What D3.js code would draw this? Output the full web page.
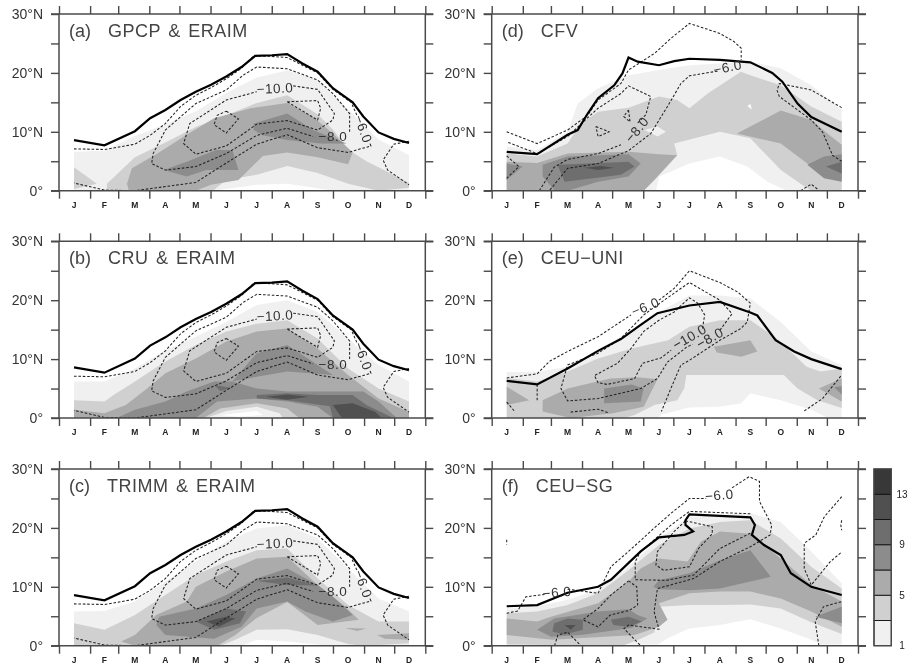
<!DOCTYPE html>
<html>
<head>
<meta charset="utf-8">
<script src="https://cdn.jsdelivr.net/npm/d3@7"></script>
<style>
html, body { margin: 0; padding: 0; background: #fff; }
svg { display: block; filter: blur(0.35px); }
text { font-family: "Liberation Sans", Arial, sans-serif; }
</style>
</head>
<body>
<svg id="chart" width="911" height="667"></svg>
<script>
months = ['J','F','M','A','M','J','J','A','S','O','N','D'];
monthStarts = [0,31,59,90,120,151,181,212,243,273,304,334,365];
latTicks = [0,5,10,15,20,25,30];
shades = ['#ffffff','#f0f0f0','#d0d0d0','#ababab','#8c8c8c','#6e6e6e','#505050','#383838'];
barTicks = [1,5,9,13];

// ERAIM line and contours, the same in the three left panels
eraimEdge = [[1,8.6],[2,7.7],[3,10.1],[3.5,12.3],[4,13.7],[4.5,15.4],[5,16.8],[5.5,18],[6,19.4],[6.5,21],[6.95,22.9],[7.5,23],[8,23.2],[8.5,21.6],[9,20.2],[9.5,17.4],[10.15,15],[10.5,12.6],[11,9.9],[11.5,8.8],[12,8.1]];
eraimLines = [
	[[1,7.1],[2,7],[3,7.9],[3.5,9.4],[4,11.4],[4.5,14.3],[5,16.2],[5.5,17.5],[6,19],[6.5,20.8],[6.9,22.9],[7.5,22.8],[8,22.6],[8.5,21.3],[9,20],[9.5,17.2],[10.1,15],[10.3,12.7]],
	[[10.72,8],[10.75,7.6],[10,6.5],[9,7.3],[8,9.5],[7,7.9],[6,4.7],[5,1.4],[3,0],[2,0.1],[1,1.3]],
	[[10.05,10],[10.05,13.1],[9.5,16.5],[9,18.8],[8,20.7],[7,21],[6.55,19.6],[6,17.1],[5,14.8],[4,10.3],[3.6,6.3],[3.55,4.6],[4,3.5],[5,4.1],[6,6.3],[7,9.4],[8,10.6],[8.85,9.2]],
	[[8.2,17.8],[9,17.2],[9.55,13.1],[9.5,12],[9,10.3],[8,11.9],[7,11.3],[6,7.6],[5,6.2],[4.6,8],[4.8,11.4],[6,15.4],[7,16.8]],
	[[6,13.5],[6.4,12.2],[6,9.8],[5.6,11.2],[5.7,12.8],[6,13.5]],
	[[8,15.1],[9,15.3],[9.1,14],[9,12],[8,15.1]],
	[[12,8.4],[11.5,7.9],[11.15,5.2],[11.3,3.5],[12,1]]
];
eraimLabels = [[7.6,17.4,'\u221210.0',-3],[9.5,9.2,'\u22128.0',0],[10.5,10.5,'\u22126.0',70]];

shadeA = [
	[1,[[1,6.6],[2,6.8],[3,9.3],[4,11.3],[5,13.5],[6,16.6],[7,19.2],[8,20.4],[9,18.9],[10,13.8],[11,8.7],[12,6],[12,0],[1,0]]],
	[0,[[5.56,0],[7,1],[8,1.2],[9,0.4],[9.5,0]]],
	[2,[[1,4],[1.75,1.2],[1,0.3]]],
	[2,[[2.08,0],[2.08,1.2],[3,5.7],[4,8.2],[5,10.8],[6,12.8],[7,14.9],[8,16.2],[9,13],[9.5,10.4],[10,7],[10.6,5],[11,4],[12,1.3],[12,0.5],[11,0],[10,1.2],[9,3],[8,4.2],[7,2.7],[6,1.8],[5.56,0]]],
	[3,[[2.74,1.2],[2.9,3.8],[3.7,6.2],[4.7,9.5],[5.6,12.3],[6.8,14],[8,14.9],[8.85,12.5],[9.5,9.7],[10.15,6.5],[10,4.5],[9,5.7],[8,6.5],[7.2,5.9],[6.4,1.8],[5.5,1],[5,0],[2.8,0]]],
	[4,[[3.95,3.5],[4.7,4.9],[5.67,6.9],[6.2,6.9],[6.4,3.5],[5.35,3.5],[4.7,2.4]]],
	[4,[[6.9,11.4],[8,13.1],[8.85,10.3],[9.95,8],[9.1,8],[8,8.6],[7.2,9.4],[6.9,10.3]]]
];
shadeB = [
	[1,[[1,6.2],[2,6.2],[3,8.4],[4,11.5],[5,13.8],[6,16.3],[7,19.2],[8,20],[9,18],[10,13.5],[11,9],[12,6.2],[12,0],[1,0]]],
	[2,[[1,3],[2,2.8],[2.3,3.9],[3,6.2],[4,9.6],[5,12.4],[6,14.7],[7,16],[8,16.6],[9,13.5],[10,8.4],[11,5],[12,2.8],[12,0],[1,0]]],
	[3,[[1,1.4],[2,0.8],[2.7,2.2],[3.4,5],[4,7.6],[5,10.1],[6,13],[7,14.7],[8,15.2],[9,11.8],[10,7.3],[11,3.3],[12,1],[12,0],[1,0]]],
	[4,[[2.4,0],[3,1.4],[4,2.8],[4.7,4.5],[5.6,6.2],[6.2,6.2],[7,5],[8,4.5],[9,4.5],[10.5,4.5],[11,2.8],[11.6,0]]],
	[4,[[6.2,6.2],[7,11],[8,12.4],[9,9],[9.5,7.3],[8,7.9],[7,7]]],
	[3,[[5,0],[5.7,2.8],[7,3.3],[8,2.8],[9,1.9],[9.5,0]]],
	[2,[[5.25,0],[5.8,1.6],[7,2.5],[8,1.6],[8.4,0]]],
	[1,[[5.45,0.2],[6,1.2],[7,1.9],[7.75,0.8],[7.85,0],[5.45,0]]],
	[0,[[5.8,0.5],[7,1.2],[7.2,0.5],[6.4,0.2]]],
	[5,[[5.6,5.6],[6.2,5.1],[5.8,4.6]]],
	[5,[[7,3.9],[8,4.2],[9,3.9],[10.15,3.9],[10.6,2.2],[11.4,0.2],[11.5,0],[9.5,0],[9.4,2],[8,3],[7,3.3]]],
	[6,[[7.3,3.6],[8,4],[8.7,3.6],[8,3.1]]],
	[6,[[9.5,2.2],[10.15,2.5],[10.9,1],[11.1,0],[9.8,0]]]
];
shadeC = [
	[1,[[1,5.8],[2,5.9],[3,7.5],[4,10.9],[5,14.3],[6,17.7],[7,19.9],[8,20.5],[9,18.2],[10,13.1],[11,8],[12,5.8],[12,0],[1,0]]],
	[2,[[1,3.8],[2,2.7],[3,5.2],[4,8.6],[5,12],[6,14.3],[7,16.2],[8,16.5],[9,11.4],[10,6.9],[11,4.1],[12,4.1],[12,0.4],[11,0.1],[10.5,0],[1,0]]],
	[1,[[5.8,0],[6.3,1],[7,2.7],[8,2.8],[9,1.8],[10,0.3],[10.5,0]]],
	[0,[[6.5,0],[7,1],[8,0.7],[9.4,0]]],
	[3,[[2.55,0.7],[3,1.8],[3.7,5.2],[4.7,7.5],[5,10],[6,12.6],[7,14.8],[8,15.1],[9,10.3],[9.85,6.9],[10.35,4.4],[9,3.5],[8,7.4],[7,4.7],[6.3,1.8],[5.7,0],[3,0]]],
	[4,[[3.8,4.9],[5,6.3],[6,8.6],[7,11.4],[8,13.1],[9,10.3],[9.5,8.3],[10.15,5.2],[9.5,4.1],[8.6,5.8],[8,7.5],[7,6.3],[6.5,3.2],[5.6,1.2],[4,1.8],[3.7,3.5]]],
	[5,[[5,4.1],[6,6.3],[6.65,5.8],[6.45,3.8],[5.6,2.7]]],
	[5,[[7,11],[8,11.6],[9,10.2],[8,10.3]]],
	[6,[[5.35,4.1],[6,4.9],[6.3,4.6],[5.75,3.2]]],
	[3,[[9.9,3],[10.6,2.9],[10.3,2.5]]],
	[3,[[10.95,1.8],[12,2.1],[12,1],[11.2,1.2]]]
];
shadeD = [
	[1,[[1,7.5],[2,6.9],[3,10],[3.33,14.8],[4,17.4],[5,19.6],[6,20.5],[7,21.3],[8,21.6],[9,21.9],[10,20.8],[11,17.9],[12,13.7],[12,0],[1,0]]],
	[2,[[1,6.3],[2,5.8],[3,8],[3.44,11.4],[4,13.4],[5,14.1],[6,16],[6.6,15.4],[7,14],[7.6,16.5],[8.69,20.2],[9,19.6],[10,17.9],[11,14.3],[12,11.7],[12,0],[1,0]]],
	[1,[[5.5,0],[5.73,2.9],[6.6,6],[6.5,8],[8,10],[9,8.9],[10,3.5],[10.65,1.2],[11,0]]],
	[1,[[5.52,10.3],[5.95,10.9],[6.23,10],[5.95,9.2]]],
	[0,[[5.9,0],[6.01,2.4],[7,4.6],[8,5.8],[8.9,4.1],[9.56,1.5],[10.2,0]]],
	[0,[[8.9,14.4],[9,14.7],[9.05,13.8]]],
	[3,[[1,4.9],[2,4.7],[3,6.3],[5,6.6],[6,6.2],[6.6,6],[5.85,1.8],[5.5,0],[1,0]]],
	[3,[[8.56,9.7],[10,13.6],[11,12],[11.53,9.7],[12,7.8],[12,1.8],[11,4.1],[10,8]]],
	[4,[[1,4.6],[1.52,4.1],[1,1.8]]],
	[4,[[2.18,4.4],[3,5.8],[5,6.2],[5.4,4.6],[5,2.4],[4,1.5],[3,0],[2.56,0.1],[2.18,2.4]]],
	[4,[[10.87,4.4],[11.42,5.8],[12,6.2],[12,1.5],[11.42,2.1]]],
	[5,[[2.67,4.4],[3.66,4.6],[5,4.9],[5.2,4.1],[4.75,2.7],[2.9,1.5]]],
	[5,[[11.48,4.1],[12,4.9],[12,2.9]]],
	[6,[[3.55,3.9],[4.1,4.2],[4.53,3.9],[4,3.5]]]
];
shadeE = [
	[1,[[1,7.8],[2,7.8],[3,8.7],[4,11.5],[5,14.7],[6,18],[7,20.8],[8,20.8],[9,20.3],[10,16.3],[11,11.3],[12,9],[12,0],[1,0]]],
	[0,[[5.95,0],[6.1,0.6],[7,1.8],[8,1.9],[8.7,2.5],[9,4.2],[10,3],[11,1.4],[11.55,0]]],
	[2,[[1,6.8],[2,6.2],[3,7.9],[4,10.1],[5.1,11.8],[6.3,13.2],[7,15.5],[8,16.6],[9,16.6],[9.87,13.5],[10.85,8.7],[11.3,7.9],[12,8.4],[12,1.7],[11.2,3],[10.55,5],[10.1,7.3],[6.9,7.3],[6.83,5],[6.6,3],[5.85,2.2],[5.2,0.5],[4.86,0],[1,0]]],
	[3,[[1,5.3],[1.74,3],[1,2.2]]],
	[3,[[2.18,3],[3,5],[4.4,6.7],[5.3,6.9],[5.95,6.6],[5.5,1.9],[4.5,0.8],[3.1,0],[2.18,1.1]]],
	[3,[[7.8,12.1],[9,13.2],[9.23,11.3],[8.7,10.4],[7.9,11.1]]],
	[3,[[11.25,5],[12,6.7],[12,2.8]]],
	[4,[[4.2,5],[5.1,5.7],[5.5,5],[5.4,2.8],[4.2,2.5]]],
	[4,[[11.75,5.2],[12,5.4],[12,4]]]
];
shadeF = [
	[1,[[1,6.3],[2,6.7],[3,7.8],[4,9.5],[5,13.4],[6,18.2],[7,21.9],[8,22.2],[9,22.5],[10,21],[11,16],[12,10.6],[12,0.2],[1,0.2]]],
	[0,[[5.9,0],[6.3,1.3],[7,2.9],[8,3.5],[9,4.5],[10,2.9],[11,1],[11.4,0]]],
	[2,[[1,5.5],[2,5.8],[3,6.9],[4,8.9],[5,12.8],[6,17.1],[7,19.9],[8,21],[9,21.3],[10,18.2],[11,13.4],[12,9.7],[12,2],[11,4],[10,6.3],[9,7],[8,6.9],[7,6.9],[6,6.6],[5.85,2.3],[5.4,1.2],[4.8,0],[1,0.2]]],
	[3,[[1,4.6],[2,4.1],[2.45,4.9],[4,7.2],[5,10.9],[5.4,13.1],[6,14.8],[6.94,14.3],[7.38,17.7],[8,19.4],[9,19],[10,14.8],[11,10.3],[12,7.5],[12,3.2],[11,5.8],[10,8],[9,9.2],[8,9.2],[7,8.9],[6,7.2],[6.28,4.4],[6,3.2],[5.2,1.8],[2.5,1],[1,1.8]]],
	[4,[[2,2.7],[2.56,4.6],[4,5.8],[5,6.2],[5.3,5.2],[5.62,4.6],[5.08,3],[3.44,1.8],[2.46,1.5]]],
	[4,[[5.82,10],[6,11.1],[7,12.3],[8,14.5],[9,16.2],[9.67,11.7],[9,10.9],[8,9.7],[7,9.4],[6,9.6]]],
	[4,[[11.13,4.9],[12,6.6],[12,3.8]]],
	[5,[[2.56,3.8],[3,4.6],[3.5,4.4],[3.5,2.7],[2.9,1.9],[2.5,2.4]]],
	[5,[[4.42,4.4],[5,4.9],[5.44,4.1],[5,3.2],[4.5,3.5]]],
	[6,[[2.9,3.5],[3.27,3.5],[3.1,2.7]]]
];

edgeD = [[1,6.6],[2,6.2],[3,9.5],[3.33,10.3],[3.66,13.1],[4,15.7],[4.53,17.9],[4.8,19.9],[5,22.6],[5.3,21.9],[6,21.3],[6.5,22],[7,22.4],[8,22.2],[9,21.8],[9.72,20],[10.05,18.5],[10.55,14.8],[11,12.5],[12,10]];
edgeE = [[1,6.3],[2,5.7],[3,8.4],[4,11.4],[4.75,13.4],[5.4,15.8],[5.95,17.8],[7,19.1],[8,19.7],[9,17.9],[9.23,17.4],[9.83,13.2],[10.44,11.3],[11,10],[12,8.3]];
edgeF = [[1,6.7],[2,6.9],[3,9],[4,10],[4.42,11.2],[5.4,16],[6,18.4],[6.83,18.8],[7.12,19.4],[6.87,20.5],[6.87,21.3],[7,22.3],[9,21.8],[9.15,20.5],[9.05,18.8],[9.45,17.1],[10,15.4],[10.33,12.3],[11,10],[12,8.6]];

linesD = [
	[[1,10],[2,8],[3,10.3],[3.66,12.8],[4,15.4],[4.75,18.2],[5,20.5],[5.85,23.3],[6.4,25.9],[7,28.4],[8,26.7],[8.47,25.3],[8.7,24.2],[8.7,22.2]],
	[[7.92,20.3],[7,19.5],[6.72,18.2],[6.28,14.3],[5.73,9.7],[5,6.8],[4,4.6],[3,3.8],[2.4,0]],
	[[2.07,0],[2.56,4],[3,5.3],[4,6.3],[4.75,7.8]],
	[[5.3,11.5],[5.57,12.9],[5.73,16],[5,17.8],[4.75,16.5],[4,14],[3,9.2],[2,6.3],[1,8.3]],
	[[3.93,10.9],[4.36,10],[4,9.2],[3.93,10.9]],
	[[5,13.7],[5.05,11.7],[4.84,12.6],[5,13.7]],
	[[12,14.1],[11,17.1],[9.95,18.2],[9.88,17],[9.95,16],[11,12],[11.37,10],[11.7,6],[12,5]],
	[[1,5.9],[1.4,4.1],[1,2.1]],
	[[10.65,0],[11,1.1],[11.27,0]]
];
linesE = [
	[[1,6.8],[2,7.5],[2.4,9.6],[3,11.3],[4,13.8],[5.08,17.5]],
	[[6,20],[6.5,22],[7,25],[8,23],[8.58,21.4],[9,19.5],[8.9,16.3],[8.69,15.2],[8,13.2],[7,9.8],[6.72,9],[6.39,5],[6.08,1.1]],
	[[8,14.9],[8.4,17.7],[8,20],[7,23],[6.5,21.2],[5.95,19.2],[5.5,17.5],[4.75,13.5],[4,11],[3,9],[2.78,5],[3,2.9],[4,3.3],[5.4,5],[5.95,6.7],[6.28,9.5],[6.9,12],[7.1,12.5]],
	[[2,5.7],[2,3]],
	[[7.43,15.2],[7.5,17.5],[7.27,19.5],[7,20.4],[6.5,18],[6,16.6],[5.5,14.7],[5.08,11.8],[4.64,9.3],[3.88,7.2],[4,6],[4.3,5.7],[5.2,6.7],[5.46,9.3],[6.06,10.2],[6.4,11.5]],
	[[3.1,1],[4,1.5],[4.33,0.9]],
	[[1,2.7],[1.25,1.2]],
	[[10.77,1.2],[11.37,3.3],[12,7.3]]
];
linesF = [
	[[1,5.5],[1.36,5.9],[1.63,8.3],[2.24,8.7]],
	[[3,9.6],[4,8.9],[4.42,13.4],[5,16],[5.85,20],[6.4,22.5],[7,25],[7.55,25]],
	[[8.4,26.8],[8.96,28.7],[9.3,27.9],[9.3,24.5],[9.7,20.5],[9.65,18.8],[9,16.8],[8,14.3],[7.14,11.4],[5.95,9.7],[5.84,5.8],[5.9,4.6],[6,2.8],[5,3.5],[4.85,2.9],[5.4,0]],
	[[9,22.4],[7,22.8],[6.4,20.5],[5.85,18],[5.4,16],[5.22,14.3],[5.22,11.2],[6.25,11.1],[7.14,12],[8,16.5],[9,19.1]],
	[[6.87,21.2],[7.75,20.2],[7.75,19],[7.3,16.5],[7,13.4],[6.15,12.8],[5.9,13.7],[5.95,16],[6.5,19.4],[6.87,21.2]],
	[[5,11],[5.27,10],[5.3,6.9],[5.03,6],[4.4,5.2],[4,3.2],[3.5,4.4],[4,6.3],[4.42,8.6],[5,11]],
	[[2.57,0],[2.68,1.8],[3,2.3],[3.44,0]],
	[[11.25,0],[11.13,4.1],[11.4,6.6],[12,7.5]],
	[[12,25.3],[11.43,21.9],[11.15,18.8],[10.77,17.4],[10.77,13.1],[11,10.3],[11.63,14.3],[12,15.9]],
	[[12,21.3],[11.97,20.5],[12,19.6]],
	[[1,18],[1,17.2]]
];
labelsD = [[8.25,21,'\u22126.0',-12],[5.27,10.4,'\u22128.0',-50]];
labelsE = [[5.55,18.9,'\u22126.0',-22],[7,13.8,'\u221210.0',-30],[7.67,13.6,'\u22128.0',-30]];
labelsF = [[2.65,9.1,'\u22126.0',-5],[7.98,25.6,'\u22126.0',-5]];

panels = [
	{tag:'(a)', name:'GPCP & ERAIM', nameX:49, left:59, top:14, shade:shadeA, edge:eraimEdge, lines:eraimLines, labels:eraimLabels},
	{tag:'(b)', name:'CRU & ERAIM', nameX:49, left:59, top:241.3, shade:shadeB, edge:eraimEdge, lines:eraimLines, labels:eraimLabels},
	{tag:'(c)', name:'TRIMM & ERAIM', nameX:48, left:59, top:469, shade:shadeC, edge:eraimEdge, lines:eraimLines, labels:eraimLabels},
	{tag:'(d)', name:'CFV', nameX:49, left:491.7, top:14, shade:shadeD, edge:edgeD, lines:linesD, labels:labelsD},
	{tag:'(e)', name:'CEU\u2212UNI', nameX:49, left:491.7, top:241.3, shade:shadeE, edge:edgeE, lines:linesE, labels:labelsE},
	{tag:'(f)', name:'CEU\u2212SG', nameX:44, left:491.7, top:469, shade:shadeF, edge:edgeF, lines:linesF, labels:labelsF}
];

pw = 366.3;
ph = 176.7;
frameColor = '#4a4a4a';
svg = d3.select('#chart');

x = d3.scaleLinear().domain([1,12]).range([15,350]);
dayX = d3.scaleLinear().domain([0,365]).range([0,pw]);
y = d3.scaleLinear().domain([0,30]).range([ph,0]);

poly = d3.line().x(d => x(d[0])).y(d => y(d[1]));

function styleAxis(g){
	g.select('.domain').remove();
	g.selectAll('.tick line').attr('stroke', frameColor).attr('stroke-width', 1.4);
}

function drawPanel(p, i){
	const g = svg.append('g').attr('transform', `translate(${p.left},${p.top})`);
	g.append('clipPath').attr('id', 'clip'+i).append('rect').attr('width', pw).attr('height', ph);
	const body = g.append('g').attr('clip-path', `url(#clip${i})`);

	body.selectAll('path.band').data(p.shade).enter().append('path')
		.attr('class', 'band')
		.attr('d', d => poly(d[1])+'Z')
		.attr('fill', d => shades[d[0]]);

	body.selectAll('path.cont').data(p.lines).enter().append('path')
		.attr('class', 'cont')
		.attr('d', poly)
		.attr('fill', 'none')
		.attr('stroke', '#222')
		.attr('stroke-width', 1.05)
		.attr('stroke-dasharray', '2.6,1.8');

	body.append('path')
		.attr('d', poly(p.edge))
		.attr('fill', 'none')
		.attr('stroke', '#000')
		.attr('stroke-width', 2.2);

	g.selectAll('text.clab').data(p.labels).enter().append('text')
		.attr('class', 'clab')
		.attr('transform', d => `translate(${x(d[0])},${y(d[1])}) rotate(${d[3]})`)
		.attr('text-anchor', 'middle')
		.attr('dy', '0.36em')
		.attr('font-size', 13.5)
		.attr('letter-spacing', 0.5)
		.attr('fill', '#333')
		.text(d => d[2]);

	// frame, horizontal sides run out past the box
	[0, ph].forEach(v => {
		g.append('line').attr('x1', -8).attr('x2', pw+8).attr('y1', v).attr('y2', v)
			.attr('stroke', frameColor).attr('stroke-width', 1.5);
	});
	[0, pw].forEach(v => {
		g.append('line').attr('x1', v).attr('x2', v).attr('y1', 0).attr('y2', ph)
			.attr('stroke', frameColor).attr('stroke-width', 1.5);
	});

	const tickOnly = d3.axisBottom(dayX).tickValues(monthStarts).tickSize(8).tickFormat('');
	g.append('g').attr('transform', `translate(0,${ph})`).call(tickOnly).call(styleAxis);
	g.append('g').call(d3.axisTop(dayX).tickValues(monthStarts).tickSize(8).tickFormat('')).call(styleAxis);
	g.append('g').attr('transform', `translate(${pw},0)`)
		.call(d3.axisRight(y).tickValues(latTicks).tickSize(8).tickFormat('')).call(styleAxis);
	const yAxis = d3.axisLeft(y).tickValues(latTicks).tickSize(8).tickPadding(8)
		.tickFormat(d => d % 10 ? '' : (d == 0 ? '0\u00b0' : d+'\u00b0N'));
	g.append('g').call(yAxis).call(styleAxis)
		.selectAll('text')
			.attr('font-family', '"Liberation Sans", Arial, sans-serif')
			.attr('font-size', 14)
			.attr('fill', '#333');

	g.selectAll('text.mon').data(months).enter().append('text')
		.attr('class', 'mon')
		.attr('x', (d, k) => x(k+1))
		.attr('y', ph+17)
		.attr('text-anchor', 'middle')
		.attr('font-size', 8.5)
		.attr('font-weight', 'bold')
		.attr('fill', '#222')
		.text(d => d);

	g.append('text')
		.attr('x', 10)
		.attr('y', 23)
		.attr('font-size', 18)
		.attr('fill', '#444')
		.text(p.tag);
	g.append('text')
		.attr('x', p.nameX)
		.attr('y', 23)
		.attr('font-size', 18)
		.attr('letter-spacing', 0.5)
		.attr('word-spacing', 2)
		.attr('fill', '#444')
		.text(p.name);
}

panels.forEach(drawPanel);

// colour bar
barLevels = [1,3,5,7,9,11,13,15];
barY = d3.scaleLinear().domain([1,15]).range([645.7,469]);
bar = svg.append('g');
bar.selectAll('rect').data(barLevels.slice(0,-1)).enter().append('rect')
	.attr('x', 874)
	.attr('width', 17.3)
	.attr('y', d => barY(d+2))
	.attr('height', d => barY(d)-barY(d+2))
	.attr('fill', (d, i) => shades[i+1])
	.attr('stroke', '#111')
	.attr('stroke-width', 0.9);
bar.append('rect').attr('x', 874).attr('y', 469).attr('width', 17.3).attr('height', 176.7)
	.attr('fill', 'none').attr('stroke', frameColor).attr('stroke-width', 1.4);
bar.selectAll('text').data(barTicks).enter().append('text')
	.attr('x', 902)
	.attr('y', d => barY(d))
	.attr('dy', '0.36em')
	.attr('text-anchor', 'middle')
	.attr('font-size', 10)
	.attr('fill', '#222')
	.text(d => d);
</script>
</body>
</html>
